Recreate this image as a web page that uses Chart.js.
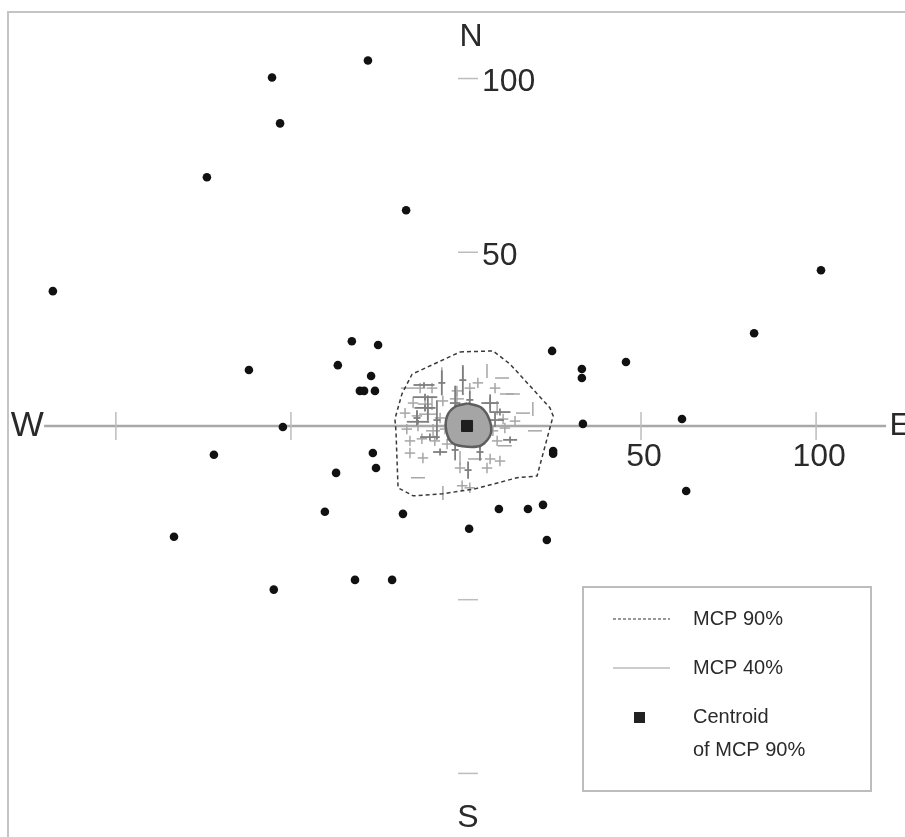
<!DOCTYPE html>
<html>
<head>
<meta charset="utf-8">
<script src="https://cdn.jsdelivr.net/npm/chart.js@4.4.1/dist/chart.umd.min.js"></script>
<style>
  html, body { margin: 0; padding: 0; background: #fff; }
  canvas { display: block; }
</style>
</head>
<body>
<canvas id="mcpChart" width="905" height="837"></canvas>
<script>
// outlying fixes (black dots), x = east, y = north
const fixX = [-28.0, -55.4, -53.1, -74.0, -17.1, -118.0, -32.6, -25.1, -36.6, -62.0,
    -27.1, -30.3, -29.1, -26.0, -52.3, -72.0, -26.6, -25.7, -37.1, -40.3,
    -18.0, -83.4, -31.7, -21.1, -54.9, 101.4, 82.3, 24.6, 45.7, 33.1,
    33.1, 33.4, 61.7, 24.9, 24.9, 62.9, 9.4, 17.7, 22.0, 0.9, 23.1];
const fixY = [105.2, 100.3, 87.1, 71.6, 62.1, 38.8, 24.4, 23.3, 17.5, 16.1,
    14.4, 10.1, 10.1, 10.1, -0.3, -8.3, -7.8, -12.1, -13.5, -24.7,
    -25.3, -31.9, -44.3, -44.3, -47.1, 44.8, 26.7, 21.6, 18.4, 16.4,
    13.8, 0.6, 2.0, -7.2, -8.0, -18.7, -23.9, -23.9, -22.7, -29.6, -32.8];

// fixes inside the MCP with their error (light gray crosses)
const crossX = [-6.9, -0.9, 6.0, 10.3, 3.4, -16.6, -13.1, -9.7, -2.6, 1.1,
    8.3, 11.7, 13.4, -15.1, -11.7, -9.7, -6.6, -2.6, 6.9, 8.9,
    16.3, 19.1, -17.4, -14.0, -10.9, -7.4, 10.6, 14.0, -16.9, -13.7,
    -9.4, -6.0, 7.7, 11.1, 19.7, -16.0, -12.6, -8.9, -5.4, 4.0,
    8.9, 11.1, -16.0, -12.3, -1.7, 2.6, 6.9, 9.7, -1.7, 6.0,
    -13.7, -1.1, 1.1, -6.6];
const crossY = [14.9, 14.9, 15.8, 13.8, 12.4, 10.9, 10.9, 10.9, 10.1, 10.9,
    10.9, 9.2, 9.2, 6.6, 6.3, 6.6, 7.2, 7.8, 6.6, 5.2,
    3.7, 4.9, 3.7, 2.9, 3.4, 2.3, 2.0, 1.4, -0.9, 0.0,
    -1.4, -0.9, -1.4, -0.6, -1.4, -4.3, -3.7, -4.3, -5.2, -5.2,
    -4.3, -5.7, -7.8, -9.2, -9.2, -9.5, -9.5, -10.1, -12.1, -12.1,
    -14.9, -17.2, -17.8, -19.3];
const crossErrX = [0, 0, 0, 2, 1.5, 2, 1.5, 1.5, 1.5, 1.5,
    1.5, 2, 2, 1.5, 2, 0, 1.5, 2, 1.5, 0,
    2, 0, 1.5, 1.5, 2.5, 1.5, 1.5, 1.5, 1.5, 1.5,
    2, 1.5, 1.5, 1.5, 2, 1.5, 1.5, 1.5, 1.5, 1.5,
    1.5, 2, 1.5, 1.5, 0, 2, 1.5, 1.5, 1.5, 1.5,
    2, 1.5, 1.5, 0];
const crossErrY = [2, 2, 2, 0, 1.5, 0, 1.5, 1.5, 1.5, 1.5,
    1.5, 0, 0, 1.5, 2, 2, 1.5, 2, 1.5, 2,
    0, 2, 1.5, 1.5, 2.5, 1.5, 1.5, 1.5, 1.5, 1.5,
    2, 1.5, 1.5, 1.5, 0, 1.5, 1.5, 1.5, 1.5, 1.5,
    1.5, 0, 1.5, 1.5, 2, 0, 1.5, 1.5, 1.5, 1.5,
    0, 1.5, 1.5, 2];

// dense core fixes (darker crosses)
const coreX = [-12.0, -6.9, -0.9, -3.1, -11.7, -10.9, -8.3, -11.7, -14.0, -13.7,
    -5.1, -10.3, 1.1, 6.9, 8.3, 9.7, 4.0, -3.1, -7.4, 12.6, 0.6];
const coreY = [11.8, 12.4, 13.2, 6.6, 8.3, 5.2, 1.7, 5.2, 2.3, 1.2,
    -0.6, -3.2, 7.5, 6.6, 1.7, 4.0, -7.5, -6.9, -7.5, -4.0, -12.7];
const coreErrX = [3.0, 1.0, 1.0, 1.5, 3.5, 1.0, 1.0, 3.0, 1.0, 3.2,
    0.8, 2.8, 1.0, 2.5, 2.5, 3.0, 1.0, 1.0, 2.0, 2.0, 1.0];
const coreErrY = [0.8, 3.6, 4.3, 5.0, 1.0, 3.6, 5.7, 1.0, 2.2, 0.5,
    3.6, 1.0, 2.5, 2.5, 2.0, 1.0, 2.5, 3.0, 1.0, 1.0, 2.5];

// minimum convex polygons
const mcp90X = [-1.7, 7.7, 12.6, 24.0, 24.9, 20.3, 14.6, 2.6, -6.6, -15.1, -19.4, -20.0, -20.3, -18.3, -15.4, -1.7];
const mcp90Y = [21.3, 21.6, 17.8, 5.2, 2.9, -14.4, -14.9, -18.1, -19.5, -20.1, -17.8, -1.4, 2.0, 9.2, 14.9, 21.3];
const mcp40X = [0.5, 4.5, 6.8, 7.0, 4.5, 0.5, -3.8, -5.6, -5.4, -3.0, 0.5];
const mcp40Y = [6.5, 5.2, 1.5, -2.5, -5.5, -6.0, -5.0, -1.5, 2.8, 5.6, 6.5];

const centroid = { x: 0.3, y: 0 };

const xTicks = [-100, -50, 50, 100];
const xTickLabels = ["", "", "50", "100"];
const yTicks = [100, 50, -50, -100];
const yTickLabels = ["100", "50", "", ""];
const compass = ["N", "E", "S", "W"];
const legendTexts = ["MCP 90%", "MCP 40%", "Centroid", "of MCP 90%"];

function toPoints(xs, ys) {
    return xs.map((x, i) => ({ x: x, y: ys[i] }));
}

function pxPerUnit(chart, axis) {
    const s = chart.scales[axis];
    return Math.abs(s.getPixelForValue(1) - s.getPixelForValue(0));
}

// one cross = two "line" points, one flat and one turned upright
function crossSets(points, errX, errY, color, width, order) {
    return [
        {
            label: "arm x",
            data: points,
            pointStyle: "line",
            pointRotation: 0,
            pointRadius: (c) => errX[c.dataIndex] * pxPerUnit(c.chart, "x"),
            borderColor: color,
            borderWidth: width,
            order: order,
        },
        {
            label: "arm y",
            data: points,
            pointStyle: "line",
            pointRotation: 90,
            pointRadius: (c) => errY[c.dataIndex] * pxPerUnit(c.chart, "y"),
            borderColor: color,
            borderWidth: width,
            order: order,
        },
    ];
}

const axesPlugin = {
    id: "compassAxes",
    beforeDatasetsDraw(chart) {
        const ctx = chart.ctx;
        const xs = chart.scales.x;
        const ys = chart.scales.y;
        const x0 = xs.getPixelForValue(0);
        const y0 = ys.getPixelForValue(0);
        ctx.save();

        // frame (top and left)
        ctx.strokeStyle = "#c4c4c4";
        ctx.lineWidth = 2;
        ctx.beginPath();
        ctx.moveTo(8, chart.height);
        ctx.lineTo(8, 12);
        ctx.lineTo(chart.width, 12);
        ctx.stroke();

        // east-west axis
        ctx.strokeStyle = "#a8a8a8";
        ctx.lineWidth = 2.5;
        ctx.beginPath();
        ctx.moveTo(xs.getPixelForValue(-120.5), y0);
        ctx.lineTo(xs.getPixelForValue(120), y0);
        ctx.stroke();

        ctx.strokeStyle = "#bdbdbd";
        ctx.lineWidth = 1.5;
        ctx.fillStyle = "#2a2a2a";
        ctx.font = "32px 'Liberation Sans', Arial, sans-serif";
        ctx.textAlign = "center";
        ctx.textBaseline = "middle";
        xTicks.forEach((v, i) => {
            const px = xs.getPixelForValue(v);
            ctx.beginPath();
            ctx.moveTo(px, y0 - 14);
            ctx.lineTo(px, y0 + 14);
            ctx.stroke();
            if (xTickLabels[i]) ctx.fillText(xTickLabels[i], px + 3, y0 + 31);
        });

        ctx.textAlign = "left";
        yTicks.forEach((v, i) => {
            const py = ys.getPixelForValue(v);
            ctx.beginPath();
            ctx.moveTo(x0 - 8, py);
            ctx.lineTo(x0 + 12, py);
            ctx.stroke();
            if (yTickLabels[i]) ctx.fillText(yTickLabels[i], x0 + 16, py + 4);
        });

        // compass letters
        ctx.textAlign = "center";
        ctx.fillText(compass[0], x0 + 5, ys.getPixelForValue(112));
        ctx.fillText(compass[2], x0 + 2, ys.getPixelForValue(-113));
        ctx.textAlign = "left";
        ctx.fillText(compass[1], xs.getPixelForValue(121), y0);
        ctx.font = "35px 'Liberation Sans', Arial, sans-serif";
        ctx.fillText(compass[3], xs.getPixelForValue(-130), y0);
        ctx.restore();
    },
    afterDraw(chart) {
        const ctx = chart.ctx;
        const area = chart.chartArea;
        const left = area.right - 322, top = area.bottom - 250;
        const w = 288, h = 204;
        ctx.save();
        ctx.fillStyle = "#fff";
        ctx.fillRect(left, top, w, h);
        ctx.strokeStyle = "#bdbdbd";
        ctx.lineWidth = 2;
        ctx.strokeRect(left, top, w, h);

        const lx1 = left + 30, lx2 = left + 87, tx = left + 110;
        ctx.strokeStyle = "#333";
        ctx.lineWidth = 1.2;
        ctx.setLineDash([3, 2]);
        ctx.beginPath();
        ctx.moveTo(lx1, top + 32);
        ctx.lineTo(lx2, top + 32);
        ctx.stroke();
        ctx.setLineDash([]);
        ctx.strokeStyle = "#999";
        ctx.beginPath();
        ctx.moveTo(lx1, top + 81);
        ctx.lineTo(lx2, top + 81);
        ctx.stroke();
        ctx.fillStyle = "#222";
        ctx.fillRect(left + 51, top + 125, 11, 11);

        ctx.fillStyle = "#2a2a2a";
        ctx.font = "20px 'Liberation Sans', Arial, sans-serif";
        ctx.textAlign = "left";
        ctx.textBaseline = "middle";
        ctx.fillText(legendTexts[0], tx, top + 32);
        ctx.fillText(legendTexts[1], tx, top + 81);
        ctx.fillText(legendTexts[2], tx, top + 130);
        ctx.fillText(legendTexts[3], tx, top + 163);
        ctx.restore();
    },
};

function renderMcpChart() {
    const ctx = document.getElementById("mcpChart").getContext("2d");

    new Chart(ctx, {
        type: "scatter",
        data: {
            datasets: [
                {
                    label: "centroid",
                    data: [centroid],
                    pointStyle: "rect",
                    pointRadius: 7.8,
                    backgroundColor: "#1e1e1e",
                    borderColor: "#1e1e1e",
                    order: 0,
                },
                {
                    label: "fixes",
                    data: toPoints(fixX, fixY),
                    pointRadius: 4.3,
                    backgroundColor: "#111",
                    borderColor: "#111",
                    borderWidth: 0,
                    order: 1,
                },
                {
                    label: "MCP 40%",
                    data: toPoints(mcp40X, mcp40Y),
                    showLine: true,
                    fill: "shape",
                    backgroundColor: "#a5a5a5",
                    borderColor: "#5e5e5e",
                    borderWidth: 2.5,
                    pointRadius: 0,
                    tension: 0.3,
                    order: 2,
                },
                {
                    label: "MCP 90%",
                    data: toPoints(mcp90X, mcp90Y),
                    showLine: true,
                    fill: false,
                    borderColor: "#3a3a3a",
                    borderWidth: 1.5,
                    borderDash: [4, 3],
                    pointRadius: 0,
                    order: 3,
                },
                ...crossSets(toPoints(coreX, coreY), coreErrX, coreErrY, "#7e7e7e", 1.8, 4),
                ...crossSets(toPoints(crossX, crossY), crossErrX, crossErrY, "#a6a6a6", 1.5, 5),
            ],
        },
        options: {
            responsive: false,
            animation: false,
            layout: { padding: 0, autoPadding: false },
            plugins: {
                legend: { display: false },
                tooltip: { enabled: false },
            },
            scales: {
                x: { type: "linear", min: -133.1, max: 125.4, display: false },
                y: { type: "linear", min: -118.3, max: 122.6, display: false },
            },
        },
        plugins: [axesPlugin],
    });
}

document.addEventListener("DOMContentLoaded", renderMcpChart);
</script>
</body>
</html>
